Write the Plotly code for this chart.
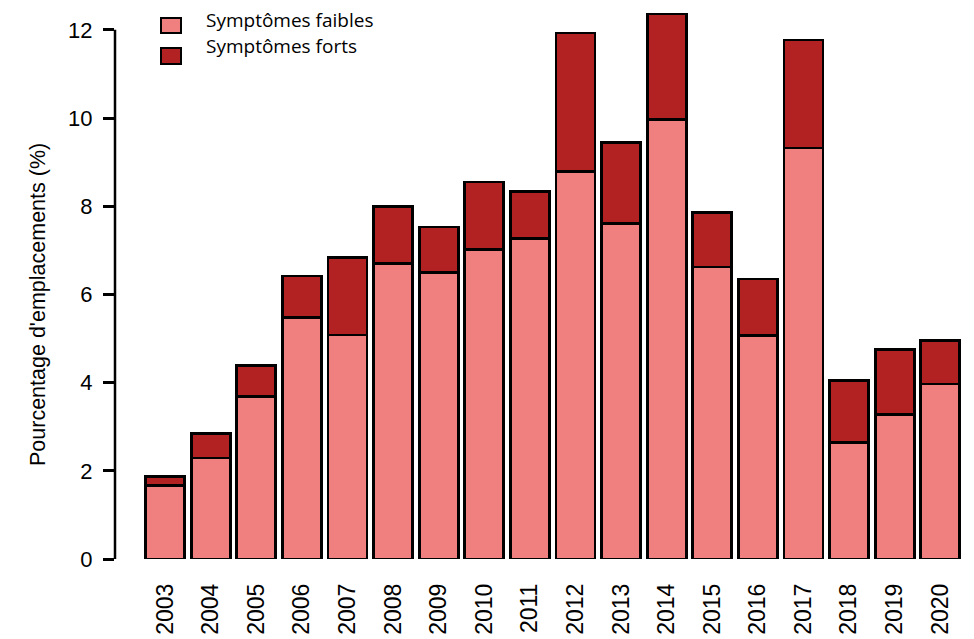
import plotly.graph_objects as go

years = [str(y) for y in range(2003, 2021)]
faibles = [1.66, 2.29, 3.68, 5.47, 5.08, 6.71, 6.49, 7.01, 7.26, 8.78, 7.60, 9.96, 6.62, 5.06, 9.32, 2.65, 3.27, 3.97]
totals = [1.88, 2.84, 4.38, 6.42, 6.83, 7.99, 7.53, 8.55, 8.33, 11.93, 9.44, 12.36, 7.85, 6.35, 11.77, 4.04, 4.76, 4.95]
forts = [round(t - f, 2) for t, f in zip(totals, faibles)]
y_ticks = [0, 2, 4, 6, 8, 10, 12]

c_faible = "#F08080"
c_fort = "#B22222"

# page has 8px body margin; figure coords = page coords - 8
W, H = 966, 631
L, T, R, B = 107, 2, 11, 80
PW, PH = W - L - R, H - T - B

def px(x):
    return (x - L) / PW

def py(y):
    return 1 - (y - T) / PH

fig = go.Figure()
fig.add_bar(x=years, y=faibles, name="Symptômes faibles",
            marker=dict(color=c_faible, line=dict(color="black", width=2.8)), width=0.855)
fig.add_bar(x=years, y=forts, name="Symptômes forts",
            marker=dict(color=c_fort, line=dict(color="black", width=2.8)), width=0.855)

fig.update_layout(
    barmode="stack",
    width=W, height=H,
    margin=dict(l=L, r=R, t=T, b=B),
    paper_bgcolor="white", plot_bgcolor="white",
    showlegend=False,
    font=dict(family="Liberation Sans, Arial", color="black"),
    xaxis=dict(range=[-1.1, 17.5], tickangle=-90, showgrid=False, showline=False, zeroline=False,
               ticks="", tickfont=dict(size=23), ticklabelstandoff=19),
    yaxis=dict(range=[0, 12.45], tickvals=y_ticks, showgrid=False, showline=False, zeroline=False,
               ticks="outside", ticklen=11, tickwidth=2.5, tickcolor="black", tickfont=dict(size=22),
               ticklabelstandoff=6),
)

# R-style y axis line from 0 to 12
fig.add_shape(type="line", xref="paper", yref="y", x0=0, x1=0, y0=0, y1=12,
              line=dict(color="black", width=2.5))

fig.add_annotation(text="Pourcentage d'emplacements (%)", xref="paper", yref="paper",
                   x=px(30), y=py(297), textangle=-90, showarrow=False,
                   font=dict(size=21.5), xanchor="center", yanchor="middle")

# Manual legend
names = ["Symptômes faibles", "Symptômes forts"]
colors = [c_faible, c_fort]
box_y = [(10, 25), (40, 56)]
text_y = [12, 38]
for n, c, (b0, b1), ty in zip(names, colors, box_y, text_y):
    fig.add_shape(type="rect", xref="paper", yref="paper",
                  x0=px(153), x1=px(173), y0=py(b1), y1=py(b0),
                  fillcolor=c, line=dict(color="black", width=2))
    fig.add_annotation(text=n, xref="paper", yref="paper", x=px(196), y=py(ty),
                       showarrow=False, xanchor="left", yanchor="middle",
                       font=dict(size=19, family="Open Sans"))

fig.write_html("out.html")
